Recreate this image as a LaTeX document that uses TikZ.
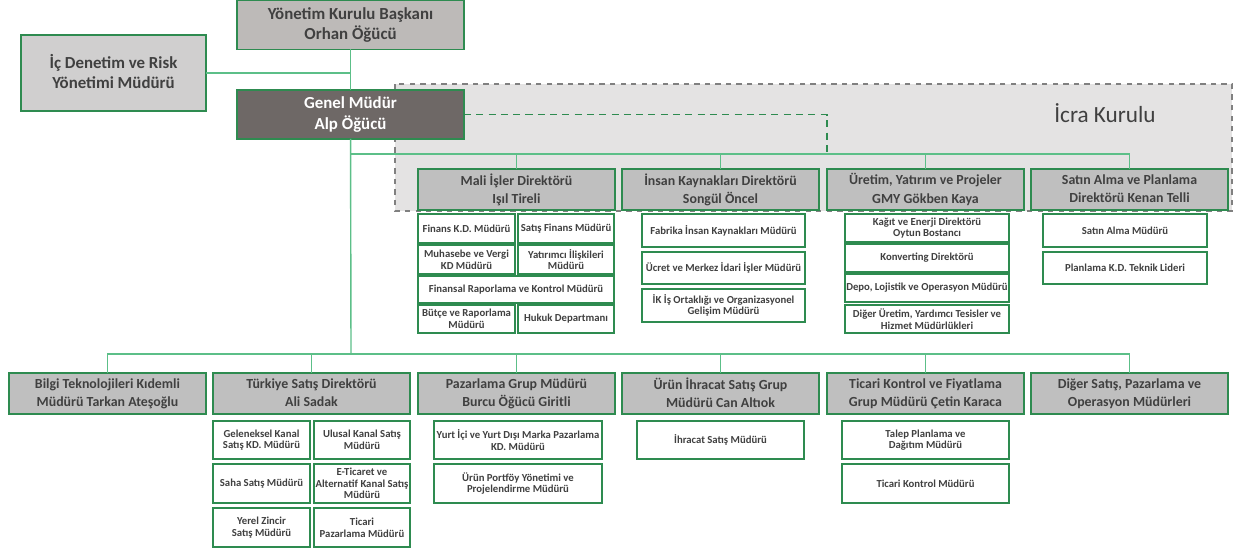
\documentclass[tikz,border=0pt]{standalone}
\usepackage{fontspec}
\setmainfont{Carlito}
\definecolor{boxline}{HTML}{2E8B50}
\definecolor{linkgreen}{HTML}{5CBF88}
\definecolor{headgray}{HTML}{BDBAB8}
\definecolor{dirgray}{HTML}{BFBFBF}
\definecolor{auditgray}{HTML}{D0CFCF}
\definecolor{gmgray}{HTML}{6E6866}
\definecolor{icragray}{HTML}{E4E3E3}
\definecolor{txt}{HTML}{404040}
\begin{document}
\begin{tikzpicture}[x=0.02cm, y=-0.02cm, every node/.style={align=center, inner sep=0pt, outer sep=0pt, text=txt}, head/.style={draw=boxline, line width=1.1pt, fill=headgray, minimum width=4.54cm, minimum height=0.98cm, font=\bfseries\fontsize{9.6}{11.4}\selectfont, execute at end node=\vphantom{g}}, dir/.style={draw=boxline, line width=1.1pt, fill=dirgray, minimum width=3.94cm, minimum height=0.82cm, font=\bfseries\fontsize{7.9}{10.3}\selectfont, execute at end node=\vphantom{g}}, sub/.style={draw=boxline, line width=0.9pt, fill=white, font=\bfseries\fontsize{6.1}{6.6}\selectfont}, link/.style={draw=linkgreen, line width=0.8pt}]
    \useasboundingbox (0,0) rectangle (1236,551);

    \draw[fill=icragray, draw=gray, dashed, line width=0.8pt] (395,84) rectangle (1232,211);
    \node[font=\fontsize{13.2}{15}\selectfont] (icra) at (1105,113) {İcra Kurulu};

    \node[head] (chair) at (350.5,25) {Yönetim Kurulu Başkanı\\Orhan Öğücü};
    \node[head, fill=auditgray, minimum width=3.7cm, minimum height=1.52cm] (audit) at (113.5,73) {İç Denetim ve Risk\\Yönetimi Müdürü};
    \node[head, fill=gmgray, text=white] (gm) at (350.5,114.5) {Genel Müdür\\Alp Öğücü};

    \node[dir] (mali) at (516.5,189.5) {Mali İşler Direktörü\\Işıl Tireli};
    \node[dir] (ik) at (720.5,189.5) {İnsan Kaynakları Direktörü\\Songül Öncel};
    \node[dir] (uretim) at (925.5,189.5) {Üretim, Yatırım ve Projeler\\GMY Gökben Kaya};
    \node[dir] (satin) at (1129.5,189.5) {Satın Alma ve Planlama\\Direktörü Kenan Telli};

    \node[sub, minimum width=1.94cm, minimum height=0.58cm] (finans) at (466.5,228.5) {Finans K.D. Müdürü};
    \node[sub, minimum width=1.92cm, minimum height=0.58cm] (satfin) at (566,228.5) {Satış Finans Müdürü};
    \node[sub, minimum width=1.94cm, minimum height=0.58cm] (muh) at (466.5,259.5) {Muhasebe ve Vergi\\KD Müdürü};
    \node[sub, minimum width=1.92cm, minimum height=0.58cm] (yat) at (566,259.5) {Yatırımcı İlişkileri\\Müdürü};
    \node[sub, minimum width=3.92cm, minimum height=0.54cm] (finrap) at (516,289.5) {Finansal Raporlama ve Kontrol Müdürü};
    \node[sub, minimum width=1.94cm, minimum height=0.56cm] (butce) at (466.5,319) {Bütçe ve Raporlama\\Müdürü};
    \node[sub, minimum width=1.92cm, minimum height=0.56cm] (hukuk) at (566,319) {Hukuk Departmanı};

    \node[sub, minimum width=3.26cm, minimum height=0.66cm] (fabrika) at (723.5,230.5) {Fabrika İnsan Kaynakları Müdürü};
    \node[sub, minimum width=3.26cm, minimum height=0.64cm] (ucret) at (723.5,268) {Ücret ve Merkez İdari İşler Müdürü};
    \node[sub, minimum width=3.26cm, minimum height=0.66cm] (ikis) at (723.5,305.5) {İK İş Ortaklığı ve Organizasyonel\\Gelişim Müdürü};

    \node[sub, minimum width=3.28cm, minimum height=0.56cm] (kagit) at (927,228) {Kağıt ve Enerji Direktörü\\Oytun Bostancı};
    \node[sub, minimum width=3.28cm, minimum height=0.56cm] (konv) at (927,258) {Konverting Direktörü};
    \node[sub, minimum width=3.28cm, minimum height=0.56cm] (depo) at (927,288) {Depo, Lojistik ve Operasyon Müdürü};
    \node[sub, minimum width=3.28cm, minimum height=0.56cm] (diguret) at (927,319) {Diğer Üretim, Yardımcı Tesisler ve\\Hizmet Müdürlükleri};

    \node[sub, minimum width=3.28cm, minimum height=0.66cm] (satmud) at (1125,230.5) {Satın Alma Müdürü};
    \node[sub, minimum width=3.28cm, minimum height=0.64cm] (plan) at (1125,268) {Planlama K.D. Teknik Lideri};

    \node[dir] (bilgi) at (107.5,393.5) {Bilgi Teknolojileri Kıdemli\\Müdürü Tarkan Ateşoğlu};
    \node[dir] (tr) at (311.5,393.5) {Türkiye Satış Direktörü\\Ali Sadak};
    \node[dir] (paz) at (516.5,393.5) {Pazarlama Grup Müdürü\\Burcu Öğücü Giritli};
    \node[dir] (ihr) at (720.5,393.5) {Ürün İhracat Satış Grup\\Müdürü Can Altıok};
    \node[dir] (tic) at (925.5,393.5) {Ticari Kontrol ve Fiyatlama\\Grup Müdürü Çetin Karaca};
    \node[dir] (diger) at (1129.5,393.5) {Diğer Satış, Pazarlama ve\\Operasyon Müdürleri};

    \node[sub, minimum width=1.94cm, minimum height=0.76cm] (gelen) at (261.5,440) {Geleneksel Kanal\\Satış KD. Müdürü};
    \node[sub, minimum width=1.92cm, minimum height=0.76cm] (ulusal) at (362,440) {Ulusal Kanal Satış\\Müdürü};
    \node[sub, minimum width=1.94cm, minimum height=0.78cm] (saha) at (261.5,483.5) {Saha Satış Müdürü};
    \node[sub, minimum width=1.92cm, minimum height=0.78cm] (eticaret) at (362,483.5) {E-Ticaret ve\\Alternatif Kanal Satış\\Müdürü};
    \node[sub, minimum width=1.94cm, minimum height=0.78cm] (yerel) at (261.5,527.5) {Yerel Zincir\\Satış Müdürü};
    \node[sub, minimum width=1.92cm, minimum height=0.78cm] (ticpaz) at (362,527.5) {Ticari\\Pazarlama Müdürü};

    \node[sub, minimum width=3.36cm, minimum height=0.76cm] (marka) at (518,440) {Yurt İçi ve Yurt Dışı Marka Pazarlama\\KD. Müdürü};
    \node[sub, minimum width=3.36cm, minimum height=0.78cm] (portfoy) at (518,483.5) {Ürün Portföy Yönetimi ve\\Projelendirme Müdürü};
    \node[sub, minimum width=3.34cm, minimum height=0.76cm] (ihrmud) at (720.5,440) {İhracat Satış Müdürü};
    \node[sub, minimum width=3.34cm, minimum height=0.76cm] (talep) at (925.5,440) {Talep Planlama ve\\Dağıtım Müdürü};
    \node[sub, minimum width=3.34cm, minimum height=0.78cm] (ticmud) at (925.5,483.5) {Ticari Kontrol Müdürü};

    \coordinate (busA) at (351,154);
    \coordinate (busB) at (351,354);
    \coordinate (icrajoin) at (827,154);

    \path[link] (chair) -- (gm);
    \path[link] (audit.east) -- (audit.east -| chair.south);
    \path[link] (gm) -- (busB);
    \path[link] (busA) -| (satin.north);
    \foreach \n in {mali, ik, uretim}
        \path[link] (\n.north) -- (\n.north |- busA);
    \path[link] (bilgi.north) |- (busB) -| (diger.north);
    \foreach \n in {tr, paz, ihr, tic}
        \path[link] (\n.north) -- (\n.north |- busB);
    \draw[boxline, dashed, line width=0.8pt, dash pattern=on 4pt off 3pt] (gm.east) -| (icrajoin);
\end{tikzpicture}
\end{document}
